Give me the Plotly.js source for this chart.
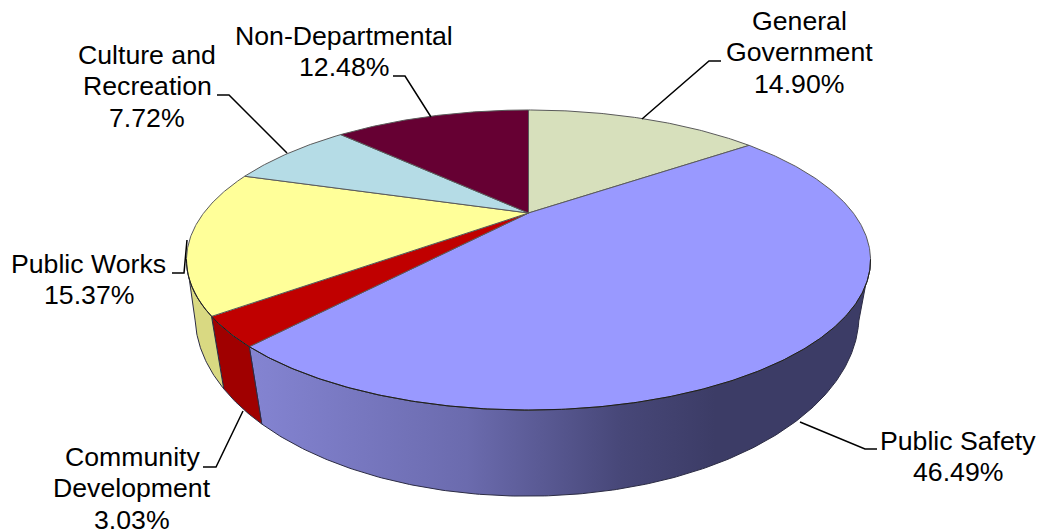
<!DOCTYPE html>
<html>
<head>
<meta charset="utf-8">
<script src="https://cdn.plot.ly/plotly-3.0.1.min.js"></script>
<style>html,body{margin:0;padding:0;background:#fff}#chart{width:1039px;height:531px}</style>
</head>
<body>
<div id="chart"></div>
<script>
// Budget shares, clockwise from twelve o'clock
const categories = ["General|Government", "Public Safety", "Community|Development", "Public Works", "Culture and|Recreation", "Non-Departmental"];
const shares = [14.90, 46.49, 3.03, 15.37, 7.72, 12.48];
const topColors = ["#D7E0BC", "#9999FF", "#C00000", "#FFFF99", "#B5DCE6", "#660033"];
const wallColors = ["#A9B094", "#5A5A96", "#A00000", "#D9D982", "#8FAEB6", "#4A0025"];

// Perspective discs: upper face and lower rim of the pie
const face = {x0: 528.5, y0: 213, sx: 324.8, sy: 135.3, k: 0.3134};
const rim = {x0: 527, y0: 264.5, sx: 318.7, sy: 166.8, k: 0.28};
// Angles where the outline of the drum turns away from the viewer
const wallFrom = 108, wallTo = 252;

function project(deg, d) {
  const t = deg * Math.PI / 180;
  const w = 1 + d.k * Math.cos(t);
  return [d.x0 + d.sx * Math.sin(t) / w, d.y0 - d.sy * Math.cos(t) / w];
}
function arc(from, to, d) {
  const pts = [], n = Math.max(8, Math.ceil(Math.abs(to - from) * 2));
  for (let i = 0; i <= n; i++) pts.push(project(from + (to - from) * i / n, d));
  return pts;
}

const total = shares.reduce((a, b) => a + b, 0);
const spans = [];
shares.reduce((start, v) => {
  const end = start + v / total * 360;
  spans.push([start, end]);
  return end;
}, 0);

const traces = [];
function polygon(pts, style) {
  traces.push(Object.assign({
    type: "scatter", mode: "lines", fill: "toself",
    x: pts.map(p => p[0]), y: pts.map(p => p[1]),
    hoverinfo: "skip", showlegend: false
  }, style));
}

// Side walls, clipped to the part of the drum facing the viewer
spans.forEach((s, i) => {
  const from = Math.max(s[0], wallFrom), to = Math.min(s[1], wallTo);
  if (to <= from) return;
  const pts = arc(from, to, face).concat(arc(to, from, rim));
  pts.push(pts[0]);
  const style = {line: {color: "#2c2c44", width: 1}, fillcolor: wallColors[i]};
  if (categories[i] === "Public Safety") {
    style.fillgradient = {type: "horizontal",
      colorscale: [[0, "#8484D2"], [0.35, "#6B6BAE"], [0.6, "#474778"], [0.75, "#3C3C66"], [1, "#3C3C66"]]};
  }
  polygon(pts, style);
});

// Top faces
spans.forEach((s, i) => {
  const pts = [[face.x0, face.y0]].concat(arc(s[0], s[1], face));
  pts.push([face.x0, face.y0]);
  polygon(pts, {line: {color: "#5a5a5a", width: 1}, fillcolor: topColors[i]});
});

// Darker front edge where the top meets the wall
const frontEdge = arc(wallFrom, wallTo, face);
traces.push({
  type: "scatter", mode: "lines",
  x: frontEdge.map(p => p[0]), y: frontEdge.map(p => p[1]),
  line: {color: "#1c1c1c", width: 1},
  hoverinfo: "skip", showlegend: false
});

// Label anchors and leader polylines, in page pixels
const labelX = [799, 958, 132, 88.5, 147, 344];
const labelY = [21, 441, 457, 264, 55, 36];
const lineStep = 31.3;
const leaders = [
  [[721, 61], [709, 61], [642, 119]],
  [[877, 449], [865, 449], [800, 422]],
  [[203, 467], [216, 467], [243, 411]],
  [[172, 273], [184, 273], [187, 240]],
  [[217, 95], [229, 95], [287, 153]],
  [[393, 76], [405, 76], [431, 117]]
];
leaders.forEach(l => traces.push({
  type: "scatter", mode: "lines",
  x: l.map(p => p[0]), y: l.map(p => p[1]),
  line: {color: "#000", width: 1.5},
  hoverinfo: "skip", showlegend: false
}));

// Each label line is placed on its own to hold the tight leading
const annotations = [];
categories.forEach((c, i) => {
  c.split("|").concat(shares[i].toFixed(2) + "%").forEach((line, j) => {
    annotations.push({
      x: labelX[i], y: labelY[i] + j * lineStep, xref: "x", yref: "y",
      text: line, showarrow: false, xanchor: "center", yanchor: "middle", align: "center",
      font: {family: "Liberation Sans, Arial, sans-serif", size: 26.67, color: "#000"}
    });
  });
});

const hidden = {visible: false, fixedrange: true};
Plotly.newPlot("chart", traces, {
  width: 1039, height: 531,
  margin: {l: 0, r: 0, t: 0, b: 0},
  paper_bgcolor: "#fff", plot_bgcolor: "#fff",
  showlegend: false,
  xaxis: Object.assign({range: [0, 1039]}, hidden),
  yaxis: Object.assign({range: [531, 0]}, hidden),
  annotations
}, {displayModeBar: false, staticPlot: true});
</script>
</body>
</html>
